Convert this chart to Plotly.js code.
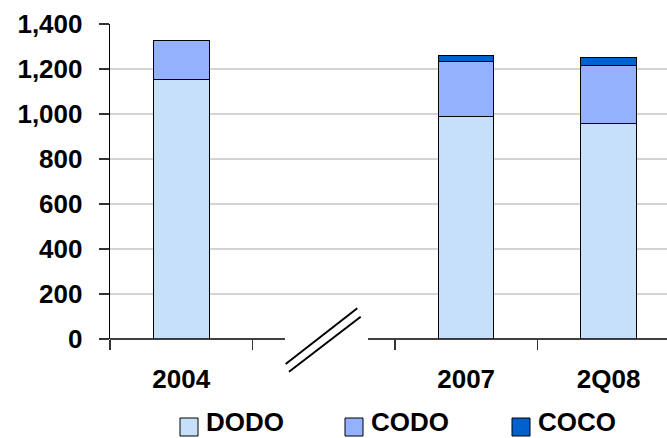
<!DOCTYPE html>
<html>
<head>
<meta charset="utf-8">
<script src="https://cdn.plot.ly/plotly-3.0.1.min.js"></script>
<style>html,body{margin:0;padding:0;background:#fff;overflow:hidden}</style>
</head>
<body>
<div id="chart" style="width:667px;height:438px"></div>
<script>
// ---- data ----
var categories = ["2004", "2007", "2Q08"];
var axisCategories = ["2004", " ", "2007", "2Q08"]; // blank slot = axis break
var seriesNames = ["DODO", "CODO", "COCO"];
var dodo = [1155, 988, 960];
var codo = [173, 245, 257];
var coco = [0, 26, 32];
var seriesColors = ["#C6E0FA", "#93B1FF", "#0061CD"];
var yTicks = [0, 200, 400, 600, 800, 1000, 1200, 1400];

// ---- layout geometry ----
var W = 667, H = 438;
var M = {l: 110, r: 0, t: 24, b: 99};
var PW = W - M.l - M.r, PH = H - M.t - M.b;
function px(x) { return (x - M.l) / PW; }
function py(y) { return (M.t + PH - y) / PH; }

var FONT = "Liberation Sans, Arial, sans-serif";
var values = [dodo, codo, coco];
var traces = seriesNames.map(function (n, i) {
  return {
    type: "bar", name: n, x: categories, y: values[i],
    width: 0.39,
    marker: {color: seriesColors[i], line: {color: "#000", width: 1}},
    showlegend: false, hoverinfo: "skip"
  };
});

var shapes = [
  // hide gridline at 0 in the break gap
  {type: "rect", xref: "paper", yref: "paper", x0: px(285.5), x1: px(368), y0: py(337), y1: py(341.5),
   fillcolor: "#fff", line: {width: 0}, layer: "above"},
  // x axis segments
  {type: "line", xref: "paper", yref: "paper", x0: 0, x1: px(285), y0: 0, y1: 0, line: {color: "#000", width: 1.3}},
  {type: "line", xref: "paper", yref: "paper", x0: px(368), x1: 1, y0: 0, y1: 0, line: {color: "#000", width: 1.3}},
  // break marks
  {type: "line", xref: "paper", yref: "paper", x0: px(285.7), y0: py(364), x1: px(357.3), y1: py(308.3), line: {color: "#000", width: 2}},
  {type: "line", xref: "paper", yref: "paper", x0: px(289), y0: py(371.7), x1: px(360.7), y1: py(316.7), line: {color: "#000", width: 2}}
];

var annotations = [];
var legendBoxX = [180, 345, 512];
seriesNames.forEach(function (n, i) {
  var bx = legendBoxX[i];
  shapes.push({type: "rect", xref: "paper", yref: "paper", x0: px(bx), x1: px(bx + 18), y0: py(436), y1: py(418),
    fillcolor: seriesColors[i], line: {color: "#000", width: 1}});
  annotations.push({xref: "paper", yref: "paper", x: px(bx + 25), y: py(437.5), xanchor: "left", yanchor: "bottom",
    text: "<b>" + n + "</b>", showarrow: false, borderpad: 0, font: {family: FONT, size: 26, color: "#000"}});
});

var layout = {
  width: W, height: H, margin: M,
  paper_bgcolor: "#fff", plot_bgcolor: "#fff",
  barmode: "stack",
  xaxis: {
    type: "category", categoryorder: "array", categoryarray: axisCategories,
    range: [-0.5, 3.41], showgrid: false, showline: false, zeroline: false,
    tickson: "boundaries", ticks: "outside", ticklen: 10, tickcolor: "#333", tickwidth: 1.3,
    tickfont: {family: FONT, size: 26, color: "#000", weight: "bold"},
    ticklabelstandoff: 22, fixedrange: true
  },
  yaxis: {
    range: [0, 1400], tickvals: yTicks, tickformat: ",d",
    showgrid: true, gridcolor: "#d4d4d4", gridwidth: 1.3, zeroline: false,
    showline: true, linecolor: "#000", linewidth: 1.3,
    ticks: "outside", ticklen: 10, tickcolor: "#333", tickwidth: 1.3,
    tickfont: {family: FONT, size: 26, color: "#000", weight: "bold"},
    ticklabelstandoff: 11, fixedrange: true
  },
  shapes: shapes, annotations: annotations, showlegend: false
};

Plotly.newPlot("chart", traces, layout, {staticPlot: true, displayModeBar: false});
</script>
</body>
</html>
